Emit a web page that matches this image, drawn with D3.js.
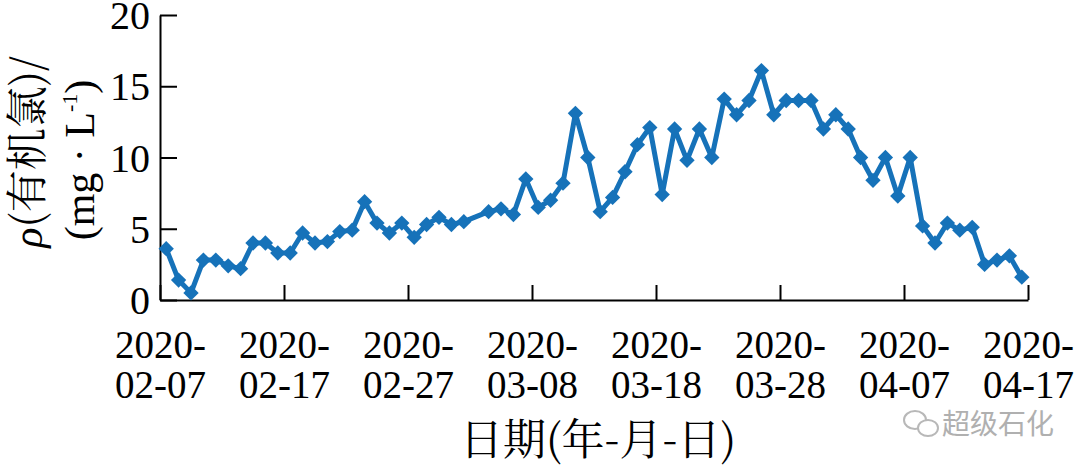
<!DOCTYPE html>
<html>
<head>
<meta charset="utf-8">
<script src="https://cdn.jsdelivr.net/npm/d3@7"></script>
<style>
  html, body { margin: 0; padding: 0; background: #fff; }
  svg { display: block; }
</style>
</head>
<body>
<svg id="chart" width="1080" height="469"></svg>
<script>
// ---- data ----
const dates = [
  "2020-02-07","2020-02-08","2020-02-09","2020-02-10","2020-02-11","2020-02-12","2020-02-13",
  "2020-02-14","2020-02-15","2020-02-16","2020-02-17","2020-02-18","2020-02-19","2020-02-20",
  "2020-02-21","2020-02-22","2020-02-23","2020-02-24","2020-02-25","2020-02-26","2020-02-27",
  "2020-02-28","2020-02-29","2020-03-01","2020-03-02","2020-03-04","2020-03-05","2020-03-06",
  "2020-03-07","2020-03-08","2020-03-09","2020-03-10","2020-03-11","2020-03-12","2020-03-13",
  "2020-03-14","2020-03-15","2020-03-16","2020-03-17","2020-03-18","2020-03-19","2020-03-20",
  "2020-03-21","2020-03-22","2020-03-23","2020-03-24","2020-03-25","2020-03-26","2020-03-27",
  "2020-03-28","2020-03-29","2020-03-30","2020-03-31","2020-04-01","2020-04-02","2020-04-03",
  "2020-04-04","2020-04-05","2020-04-06","2020-04-07","2020-04-08","2020-04-09","2020-04-10",
  "2020-04-11","2020-04-12","2020-04-13","2020-04-14","2020-04-15","2020-04-16"
];
const values = [
  3.6, 1.4, 0.5, 2.8, 2.8, 2.4, 2.2,
  4.0, 4.0, 3.3, 3.3, 4.7, 4.0, 4.1,
  4.8, 4.9, 6.9, 5.4, 4.7, 5.4, 4.4,
  5.3, 5.8, 5.3, 5.5, 6.2, 6.4, 6.0,
  8.5, 6.5, 7.0, 8.2, 13.1, 10.0, 6.2,
  7.2, 9.0, 10.9, 12.1, 7.4, 12.0, 9.8,
  12.0, 10.0, 14.1, 13.0, 14.0, 16.1, 13.0,
  14.0, 14.0, 14.0, 12.0, 13.0, 12.0, 10.0,
  8.4, 10.0, 7.3, 10.0, 5.2, 4.0, 5.4,
  4.9, 5.1, 2.5, 2.8, 3.1, 1.6
];
const xTickDates = ["2020-02-07","2020-02-17","2020-02-27","2020-03-08","2020-03-18","2020-03-28","2020-04-07","2020-04-17"];
const yTicks = [0, 5, 10, 15, 20];
const xTitle = "日期(年-月-日)";
const yTitleLine1 = ["ρ", "(有机氯)/"];
const watermark = "超级石化";

// ---- layout ----
const svg = d3.select("#chart");
const mLeft = 160, mRight = 1028, mTop = 15, mBottom = 300;
const parse = d3.timeParse("%Y-%m-%d");
const x = d3.scaleTime()
  .domain([parse(xTickDates[0]), parse(xTickDates[xTickDates.length - 1])])
  .range([mLeft, mRight]);
const y = d3.scaleLinear().domain([0, 20]).range([mBottom, mTop]);

const serif = "'Liberation Serif','Times New Roman',serif";
const cjk = "'Noto Serif CJK SC','Noto Sans CJK SC',serif";
const blue = "#1672b9";

// x axis
const xAxis = d3.axisBottom(x)
  .tickValues(xTickDates.map(parse))
  .tickSizeInner(-15).tickSizeOuter(0)
  .tickPadding(0)
  .tickFormat(d3.timeFormat("%m-%d"));
const gx = svg.append("g").attr("transform", `translate(0,${mBottom})`).call(xAxis);
gx.select(".domain").attr("stroke", "#000").attr("stroke-width", 2);
gx.selectAll(".tick line").attr("stroke", "#000").attr("stroke-width", 2);
gx.selectAll(".tick text").each(function(d) {
  const t = d3.select(this);
  const md = d3.timeFormat("%m-%d")(d);
  const yr = d3.timeFormat("%Y")(d) + "-";
  t.text(null).attr("y", 0).attr("dy", null)
    .attr("font-family", serif).attr("font-size", 39).attr("fill", "#000");
  t.append("tspan").attr("x", 0).attr("y", 58).text(yr);
  t.append("tspan").attr("x", 0).attr("y", 98).text(md);
});

// y axis
const yAxis = d3.axisLeft(y).tickValues(yTicks).tickSizeInner(-17).tickSizeOuter(0).tickPadding(10);
const gy = svg.append("g").attr("transform", `translate(${mLeft},0)`).call(yAxis);
gy.select(".domain").attr("stroke", "#000").attr("stroke-width", 2);
gy.selectAll(".tick line").attr("stroke", "#000").attr("stroke-width", 2);
gy.selectAll(".tick text").attr("font-family", serif).attr("font-size", 40).attr("fill", "#000")
  .attr("dy", "0.34em");

// data line + markers
const pts = dates.map((d, i) => ({ date: d3.timeHour.offset(parse(d), 12), v: values[i] }));
const line = d3.line().x(d => x(d.date)).y(d => y(d.v));
svg.append("path").datum(pts).attr("d", line)
  .attr("fill", "none").attr("stroke", blue).attr("stroke-width", 5).attr("stroke-linejoin", "round");
const sym = d3.symbol().type(d3.symbolDiamond2).size(150);
svg.append("g").selectAll("path").data(pts).join("path")
  .attr("d", sym)
  .attr("transform", d => `translate(${x(d.date)},${y(d.v)})`)
  .attr("fill", blue);

// x title
svg.append("text").attr("x", 598).attr("y", 455).attr("text-anchor", "middle")
  .attr("font-family", cjk).attr("font-size", 43).attr("fill", "#000").text(xTitle);

// y title (two rotated lines)
const yt = svg.append("text").attr("transform", "translate(42,152) rotate(-90)")
  .attr("text-anchor", "middle").attr("font-family", cjk).attr("font-size", 42).attr("fill", "#000");
yt.append("tspan").attr("font-family", serif).attr("font-style", "italic").text(yTitleLine1[0]);
yt.append("tspan").text(yTitleLine1[1]);

const yt2 = svg.append("text").attr("transform", "translate(94,160) rotate(-90)")
  .attr("text-anchor", "middle").attr("font-family", serif).attr("font-size", 42).attr("fill", "#000");
yt2.append("tspan").text("(mg · L");
yt2.append("tspan").attr("font-size", 22).attr("dy", -17).text("-1");
yt2.append("tspan").attr("dy", 17).text(")");

// watermark
const wm = svg.append("g").attr("fill", "none").attr("stroke", "#b8b8b8").attr("stroke-width", 2);
wm.append("ellipse").attr("cx", 915).attr("cy", 420).attr("rx", 11).attr("ry", 9);
wm.append("ellipse").attr("cx", 928).attr("cy", 428).attr("rx", 10).attr("ry", 8).attr("fill", "#fff");
svg.append("text").attr("x", 942).attr("y", 434).attr("font-family", "'Noto Sans CJK SC',sans-serif")
  .attr("font-size", 28).attr("fill", "#b0b0b0").text(watermark);
</script>
</body>
</html>
